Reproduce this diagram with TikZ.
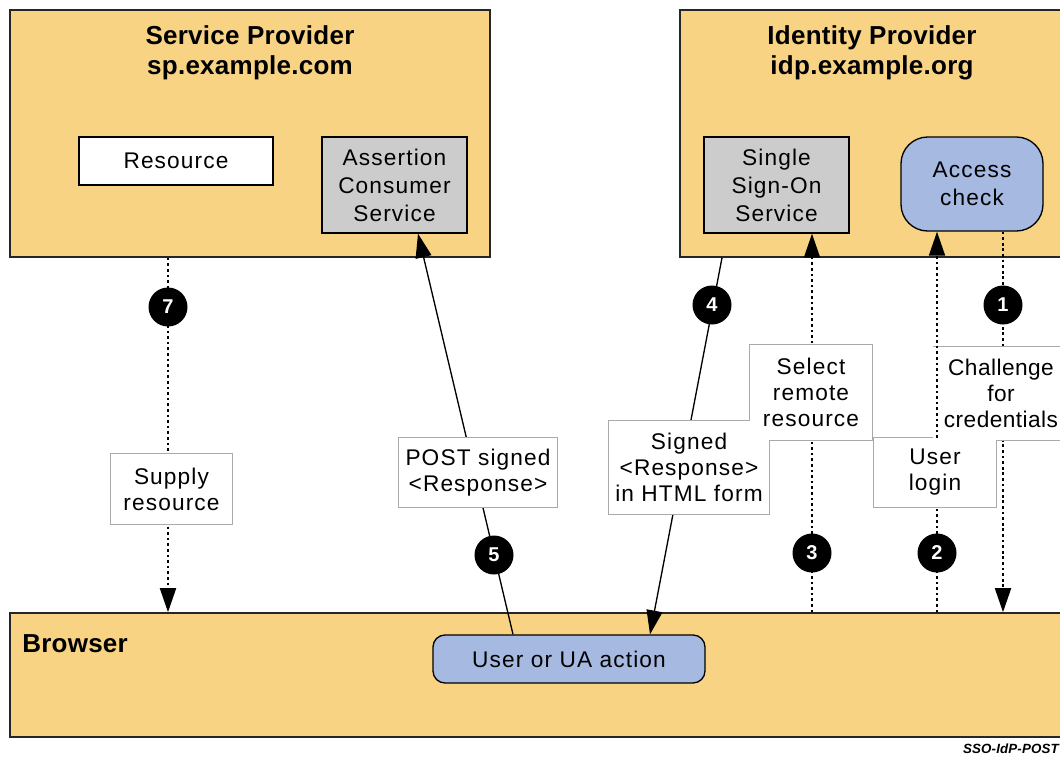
\documentclass[tikz,border=0pt]{standalone}
\usepackage{fontspec}
\setmainfont{Liberation Sans}[LetterSpace=5]
\newfontfamily\dgHead{Liberation Sans}[LetterSpace=1]
\usetikzlibrary{arrows.meta}

\definecolor{zonefill}{HTML}{F7D383}
\definecolor{svcgray}{HTML}{CCCCCC}
\definecolor{actblue}{HTML}{A6B9E1}
\definecolor{notegray}{HTML}{AAAAAA}

\newcommand\pxu{0.75pt}
\newcommand\dgBody{\fontsize{17}{21}\selectfont}
\newcommand\dgNote{\fontsize{17}{19.5}\selectfont}
\newcommand\dgTitle{\dgHead\bfseries\fontsize{19.5}{22.5}\selectfont}
\newcommand\dgNum{\dgHead\bfseries\fontsize{15}{15}\selectfont}
\newcommand\dgTag{\dgHead\bfseries\itshape\fontsize{10}{10}\selectfont}

\begin{document}
\begin{tikzpicture}[x=\pxu, y=-\pxu,
  wh/.style 2 args={minimum width=#1*\pxu, minimum height=#2*\pxu},
  zone/.style={draw=black!85, line width=1.2pt, fill=zonefill, inner sep=0pt},
  zonetitle/.style={font=\dgTitle, align=center, inner sep=0pt},
  svc/.style={draw=black, line width=1pt, fill=svcgray, inner sep=0pt, align=center, font=\dgBody},
  plain/.style={draw=black, line width=1pt, fill=white, inner sep=0pt, align=center, font=\dgBody},
  act/.style={draw=black, line width=1pt, fill=actblue, inner sep=0pt, align=center, font=\dgBody},
  noteframe/.style={draw=notegray, line width=1.5pt, inner sep=0pt, outer sep=0pt},
  note/.style={fill=white, inner sep=0pt, outer sep=0pt, align=center, font=\dgNote},
  num/.style={circle, fill=black, text=white, font=\dgNum, minimum size=39*\pxu, inner sep=0pt},
  tip/.style={-{Triangle[length=18pt,width=12pt]}},
  msg/.style={tip, line width=1pt},
  flow/.style={tip, line width=1.4pt, dash pattern=on 2pt off 2.2pt},
  flowplain/.style={line width=1.4pt, dash pattern=on 2pt off 2.2pt}]

\clip (0,0) rectangle (1060,757);
\fill[white] (0,0) rectangle (1060,757);

% --- the three parties ---
\node[zone, wh={480}{247}] (sp) at (250,133.5) {};
\node[zonetitle] (sptitle) at (250,53) {Service Provider\\sp.example.com};
\node[plain, wh={194}{48}] (res) at (176,161) {Resource};
\node[svc, wh={145}{96}] (acs) at (394.5,185) {Assertion\\Consumer\\Service};

\node[zone, wh={390}{247}] (idp) at (875,133.5) {};
\node[zonetitle] (idptitle) at (872,53) {Identity Provider\\idp.example.org};
\node[svc, wh={145}{96}] (sso) at (776.5,185) {Single\\Sign-On\\Service};
\node[act, wh={142}{94}, rounded corners=20pt] (acc) at (972,184) {Access\\check};

\node[zone, wh={1060}{124}] (br) at (540,675) {};
\node[font=\dgTitle, anchor=base west, inner sep=0pt] (brtitle) at (22,652) {Browser};
\node[act, wh={272}{48}, rounded corners=9pt] (ua) at (569,659) {User or UA action};

% --- message flows (under the notes) ---
\draw[flow] (acc.south -| 1003,0) -- (br.north -| 1003,0);
\draw[flow] (sp.south -| 168,0) -- (br.north -| 168,0);
\draw[flow] (br.north -| 812,0) -- (sso.south -| 812,0);
\draw[flowplain] (br.north -| 937,0) -- (937,507);
\draw[msg] (idp.south -| 722,0) -- (ua.north -| 650,0);
\draw[msg] (ua.north -| 513,0) -- (acs.south -| 418,0);

% --- step numbers ---
\node[num] (n1) at (1003,305) {1};
\node[num] (n2) at (937,553) {2};
\node[num] (n3) at (812,553) {3};
\node[num] (n4) at (712,305) {4};
\node[num] (n5) at (494,555) {5};
\node[num] (n7) at (168,307) {7};

% --- notes: outlines first, then white bodies, so touching notes merge ---
\node[noteframe, wh={121}{70}] at (171.5,489) {};
\node[noteframe, wh={158}{69}] at (478,472.5) {};
\node[noteframe, wh={160}{93}] at (689,467.5) {};
\node[noteframe, wh={122}{95}] at (811,392.5) {};
\node[noteframe, wh={136}{93}] at (1002,393.5) {};
\node[noteframe, wh={122}{69}] at (935,472.5) {};

\node[note, wh={121}{70}] (sup) at (171.5,489) {Supply\\resource};
\node[note, wh={158}{69}] (post) at (478,472.5) {POST signed\\<Response>};
\node[note, wh={160}{93}] (signed) at (689,467.5) {Signed\\<Response>\\in HTML form};
\node[note, wh={122}{95}] (sel) at (811,392.5) {Select\\remote\\resource};
\node[note, wh={136}{93}, font=\dgNote\addfontfeature{LetterSpace=2}] (chal) at (1001,393.5) {Challenge\\for\\credentials};
\node[note, wh={122}{69}] (login) at (935,472.5) {User\\login};

% login flow continues up to the access check
\draw[flow] (login.north -| 937,0) -- (acc.south -| 937,0);

\node[font=\dgTag, anchor=base east, inner sep=0pt] (tag) at (1059,753) {SSO-IdP-POST};
\end{tikzpicture}
\end{document}
